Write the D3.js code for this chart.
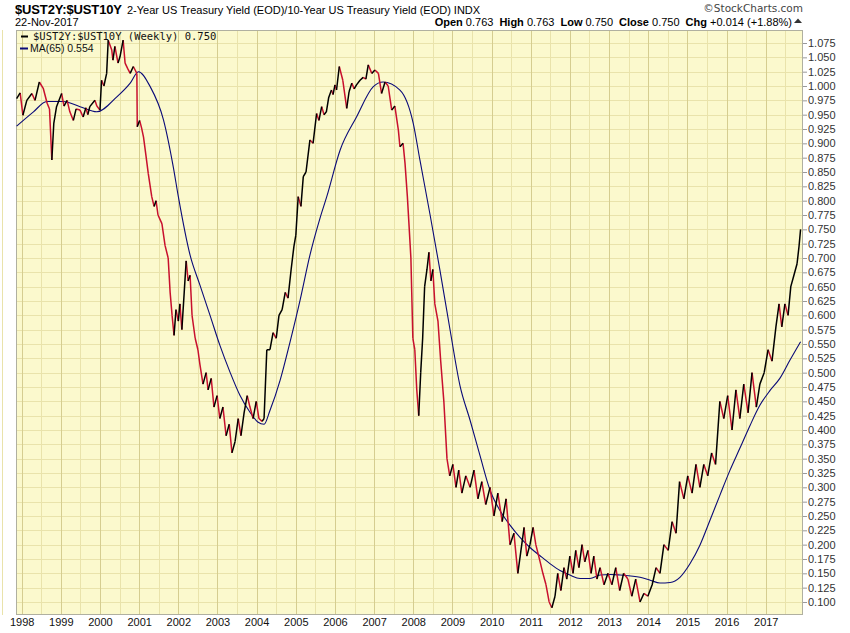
<!DOCTYPE html>
<html><head><meta charset="utf-8">
<script src="https://cdn.jsdelivr.net/npm/d3@7"></script>
<style>body{margin:0;background:#fff}svg{display:block}</style>
</head><body>
<svg id="c" width="850" height="633"></svg>
<script>
// ---- data (dates as decimal years) ----
const ratioDates = [1997.87,1997.96,1998.03,1998.13,1998.26,1998.34,1998.45,1998.55,1998.65,1998.71,1998.77,1998.82,1998.89,1999.02,1999.08,1999.16,1999.23,1999.32,1999.39,1999.49,1999.57,1999.64,1999.69,1999.74,1999.87,1999.92,2000.00,2000.04,2000.10,2000.17,2000.21,2000.30,2000.33,2000.38,2000.46,2000.51,2000.59,2000.64,2000.71,2000.77,2000.85,2000.94,2000.95,2001.01,2001.06,2001.11,2001.17,2001.23,2001.32,2001.38,2001.43,2001.48,2001.58,2001.66,2001.74,2001.79,2001.84,2001.89,2001.94,2002.00,2002.04,2002.09,2002.15,2002.20,2002.25,2002.30,2002.35,2002.43,2002.50,2002.55,2002.63,2002.71,2002.76,2002.84,2002.91,2002.99,2003.06,2003.14,2003.22,2003.30,2003.37,2003.45,2003.53,2003.60,2003.68,2003.76,2003.83,2003.91,2003.99,2004.06,2004.14,2004.19,2004.26,2004.34,2004.42,2004.50,2004.57,2004.65,2004.73,2004.80,2004.88,2004.95,2005.00,2005.06,2005.13,2005.19,2005.26,2005.36,2005.44,2005.53,2005.59,2005.66,2005.72,2005.78,2005.84,2005.91,2005.95,2006.00,2006.04,2006.11,2006.20,2006.30,2006.36,2006.43,2006.49,2006.55,2006.64,2006.72,2006.79,2006.85,2006.94,2007.02,2007.11,2007.19,2007.28,2007.36,2007.45,2007.53,2007.62,2007.66,2007.74,2007.79,2007.85,2007.89,2007.94,2007.99,2008.04,2008.09,2008.14,2008.19,2008.24,2008.29,2008.35,2008.40,2008.45,2008.50,2008.55,2008.63,2008.70,2008.78,2008.86,2008.93,2009.01,2009.09,2009.16,2009.24,2009.34,2009.45,2009.55,2009.65,2009.75,2009.85,2009.96,2010.06,2010.16,2010.27,2010.37,2010.47,2010.57,2010.67,2010.75,2010.83,2010.90,2010.98,2011.06,2011.13,2011.24,2011.31,2011.39,2011.47,2011.54,2011.62,2011.69,2011.77,2011.85,2011.92,2012.00,2012.08,2012.15,2012.23,2012.31,2012.38,2012.46,2012.54,2012.61,2012.69,2012.77,2012.87,2012.97,2013.07,2013.17,2013.27,2013.37,2013.48,2013.58,2013.68,2013.79,2013.89,2013.99,2014.10,2014.20,2014.30,2014.40,2014.51,2014.61,2014.71,2014.80,2014.91,2015.01,2015.12,2015.22,2015.32,2015.42,2015.52,2015.62,2015.72,2015.83,2015.93,2016.03,2016.14,2016.24,2016.34,2016.44,2016.55,2016.65,2016.76,2016.85,2016.96,2017.06,2017.16,2017.26,2017.34,2017.41,2017.49,2017.57,2017.64,2017.72,2017.80,2017.85,2017.89];
const ratioValues = [0.978,0.988,0.949,0.975,0.987,0.975,1.007,0.996,0.970,0.960,0.871,0.935,0.964,0.987,0.965,0.975,0.955,0.940,0.960,0.958,0.946,0.962,0.950,0.964,0.975,0.965,0.958,1.010,1.000,1.022,1.080,1.063,1.045,1.069,1.040,1.051,1.080,1.040,1.030,1.022,1.034,1.022,0.929,0.940,0.927,0.911,0.880,0.848,0.807,0.790,0.800,0.775,0.760,0.722,0.700,0.640,0.600,0.565,0.610,0.590,0.620,0.575,0.640,0.695,0.660,0.670,0.600,0.560,0.540,0.515,0.480,0.500,0.470,0.490,0.440,0.460,0.420,0.440,0.390,0.410,0.360,0.380,0.420,0.390,0.430,0.460,0.440,0.420,0.450,0.420,0.415,0.420,0.540,0.540,0.570,0.560,0.600,0.610,0.640,0.630,0.680,0.720,0.740,0.807,0.790,0.842,0.850,0.906,0.900,0.952,0.940,0.964,0.950,0.955,0.980,0.993,0.985,1.002,0.993,1.034,1.010,0.961,0.990,1.005,0.995,1.002,1.010,1.015,1.012,1.037,1.022,1.028,1.022,0.987,1.007,1.000,0.958,0.965,0.923,0.894,0.900,0.865,0.807,0.760,0.700,0.560,0.540,0.470,0.425,0.500,0.560,0.650,0.680,0.710,0.660,0.680,0.620,0.590,0.520,0.450,0.350,0.320,0.340,0.300,0.330,0.290,0.320,0.300,0.330,0.280,0.310,0.270,0.300,0.250,0.290,0.240,0.280,0.200,0.220,0.150,0.190,0.230,0.180,0.200,0.230,0.200,0.170,0.150,0.130,0.100,0.090,0.110,0.150,0.120,0.160,0.140,0.180,0.150,0.190,0.160,0.200,0.170,0.190,0.150,0.180,0.140,0.160,0.130,0.150,0.130,0.160,0.120,0.150,0.140,0.110,0.140,0.100,0.115,0.110,0.130,0.160,0.150,0.200,0.190,0.240,0.220,0.310,0.280,0.320,0.290,0.340,0.300,0.340,0.320,0.360,0.340,0.450,0.420,0.460,0.400,0.470,0.420,0.480,0.430,0.500,0.440,0.480,0.500,0.540,0.520,0.580,0.620,0.580,0.620,0.600,0.650,0.670,0.690,0.720,0.750];
const maDates = [1997.87,1998.30,1998.64,1999.06,1999.49,1999.92,2000.43,2000.77,2000.98,2001.28,2001.62,2001.87,2002.00,2002.30,2002.55,2002.81,2003.06,2003.32,2003.57,2003.83,2004.03,2004.19,2004.34,2004.60,2004.85,2005.11,2005.36,2005.62,2005.79,2006.13,2006.55,2006.98,2007.23,2007.66,2008.00,2008.17,2008.43,2008.68,2008.94,2009.19,2009.45,2009.70,2009.96,2010.21,2010.47,2010.72,2010.98,2011.23,2011.49,2011.75,2012.00,2012.26,2012.51,2012.77,2013.03,2013.28,2013.79,2014.05,2014.30,2014.56,2014.81,2015.07,2015.32,2015.58,2015.83,2016.09,2016.34,2016.60,2016.85,2017.11,2017.36,2017.62,2017.89];
const maValues = [0.930,0.955,0.973,0.973,0.964,0.955,0.981,1.005,1.025,0.999,0.941,0.859,0.807,0.705,0.653,0.600,0.548,0.501,0.461,0.431,0.414,0.410,0.434,0.487,0.553,0.627,0.705,0.770,0.807,0.888,0.946,0.999,1.007,0.993,0.935,0.871,0.775,0.679,0.574,0.478,0.417,0.356,0.295,0.260,0.234,0.213,0.195,0.181,0.167,0.155,0.147,0.141,0.141,0.147,0.148,0.147,0.143,0.138,0.133,0.134,0.143,0.167,0.199,0.243,0.286,0.330,0.368,0.408,0.443,0.469,0.490,0.522,0.554];
const yearTicks = [1998,1999,2000,2001,2002,2003,2004,2005,2006,2007,2008,2009,2010,2011,2012,2013,2014,2015,2016,2017];
const yTicks = [0.100,0.125,0.150,0.175,0.200,0.225,0.250,0.275,0.300,0.325,0.350,0.375,0.400,0.425,0.450,0.475,0.500,0.525,0.550,0.575,0.600,0.625,0.650,0.675,0.700,0.725,0.750,0.775,0.800,0.825,0.850,0.875,0.900,0.925,0.950,0.975,1.000,1.025,1.050,1.075];

// ---- layout ----
const L = 16, R = 803, T = 30, B = 615;
const svg = d3.select("#c");
const toDate = y => { const yr = Math.floor(y); const s = new Date(yr,0,1), e = new Date(yr+1,0,1); return new Date(+s + (y-yr)*(e-s)); };
const x = d3.scaleTime().domain([toDate(1997.854), toDate(2017.952)]).range([L, R]);
const y = d3.scaleLinear().domain([0.0773, 1.0977]).range([B, T]);

svg.append("rect").attr("x",L).attr("y",T).attr("width",R-L).attr("height",B-T).attr("fill","#fbf9cd");
svg.append("defs").append("clipPath").attr("id","clip").append("rect").attr("x",L).attr("y",T).attr("width",R-L).attr("height",B-T);

const g = svg.append("g");
g.selectAll("line.h").data(yTicks).join("line")
  .attr("x1",L).attr("x2",R).attr("y1",d=>Math.round(y(d))+0.5).attr("y2",d=>Math.round(y(d))+0.5)
  .attr("stroke","#e9e3ab").attr("stroke-width",1);
g.selectAll("line.m").data(yearTicks.concat([1997])).join("line")
  .attr("x1",d=>Math.round(x(toDate(d+0.5)))+0.5).attr("x2",d=>Math.round(x(toDate(d+0.5)))+0.5)
  .attr("y1",T).attr("y2",B).attr("stroke","#e9e3ab");
g.selectAll("line.v").data(yearTicks).join("line")
  .attr("x1",d=>Math.round(x(toDate(d)))+0.5).attr("x2",d=>Math.round(x(toDate(d)))+0.5)
  .attr("y1",T).attr("y2",B).attr("stroke","#d5cd90");

svg.append("rect").attr("x",L+0.5).attr("y",T+0.5).attr("width",R-L-1).attr("height",B-T-1).attr("fill","none").attr("stroke","#b0b0a0");

const yAxis = d3.axisRight(y).tickValues(yTicks).tickFormat(d3.format(".3f")).tickSize(4).tickPadding(1);
const ya = svg.append("g").attr("transform",`translate(${R},0)`).call(yAxis);
ya.select(".domain").remove();
ya.selectAll("line").attr("stroke","#999");
ya.selectAll("text").attr("font-family","Arial, 'Liberation Sans', sans-serif").attr("font-size",11).attr("fill","#333");

const xAxis = d3.axisBottom(x).tickValues(yearTicks.map(toDate)).tickFormat(d3.timeFormat("%Y")).tickSize(0).tickPadding(3);
const xa = svg.append("g").attr("transform",`translate(0,${B})`).call(xAxis);
xa.select(".domain").remove();
xa.selectAll("text").attr("font-family","Arial, 'Liberation Sans', sans-serif").attr("font-size",11).attr("fill","#111");

const pts = ratioDates.map((d,i)=>({d:toDate(d), v:ratioValues[i]}));
const line = d3.line().x(p=>x(p.d)).y(p=>y(p.v));
const upSeg = [], dnSeg = [];
for (let i=1;i<pts.length;i++){ (pts[i].v>=pts[i-1].v?upSeg:dnSeg).push(line([pts[i-1],pts[i]])); }
const pg = svg.append("g").attr("clip-path","url(#clip)");
const maPts = maDates.map((d,i)=>({d:toDate(d), v:maValues[i]}));
pg.append("path").attr("d", d3.line().x(p=>x(p.d)).y(p=>y(p.v)).curve(d3.curveMonotoneX)(maPts))
  .attr("fill","none").attr("stroke","#0a0a78").attr("stroke-width",1.1);
pg.append("path").attr("d", dnSeg.join("")).attr("fill","none").attr("stroke","#c8102e").attr("stroke-width",1.5).attr("stroke-linejoin","round");
pg.append("path").attr("d", upSeg.join("")).attr("fill","none").attr("stroke","#000").attr("stroke-width",1.5).attr("stroke-linejoin","round");

const lg = svg.append("g");
lg.append("line").attr("x1",21).attr("x2",28).attr("y1",36.5).attr("y2",36.5).attr("stroke","#000").attr("stroke-width",2);
lg.append("text").attr("x",33).attr("y",40).attr("font-family","'DejaVu Sans Mono', monospace").attr("font-size",10.5).attr("fill","#111").text("$UST2Y:$UST10Y (Weekly) 0.750");
lg.append("line").attr("x1",20).attr("x2",28).attr("y1",48.5).attr("y2",48.5).attr("stroke","#0a0a78").attr("stroke-width",2);
lg.append("text").attr("x",30).attr("y",52).attr("font-family","Arial, 'Liberation Sans', sans-serif").attr("font-size",10.5).attr("fill","#111").text("MA(65) 0.554");

const hd = svg.append("g").attr("font-family","Arial, 'Liberation Sans', sans-serif");
hd.append("text").attr("x",15).attr("y",14).attr("font-weight","bold").attr("font-size",13).attr("textLength",107).text("$UST2Y:$UST10Y");
hd.append("text").attr("x",127).attr("y",14).attr("font-size",11).text("2-Year US Treasury Yield (EOD)/10-Year US Treasury Yield (EOD) INDX");
hd.append("text").attr("x",15).attr("y",26).attr("font-size",11).text("22-Nov-2017");
hd.append("text").attr("x",803).attr("y",12).attr("text-anchor","end").attr("font-family","'DejaVu Sans', Verdana, sans-serif").attr("font-size",10.5).attr("fill","#444").text("\u00a9StockCharts.com");
const h2 = hd.append("text").attr("x",792).attr("y",26).attr("text-anchor","end").attr("font-size",11);
[["Open"," 0.763"],["High"," 0.763"],["Low"," 0.750"],["Close"," 0.750"],["Chg"," +0.014 (+1.88%)"]].forEach(([a,b],i)=>{
  h2.append("tspan").attr("font-weight","bold").attr("dx", i? 6:0).text(a);
  h2.append("tspan").text(b);
});
hd.append("path").attr("d","M794,23 L798,18.5 L802,23 Z").attr("fill","#333");
</script>
</body></html>
